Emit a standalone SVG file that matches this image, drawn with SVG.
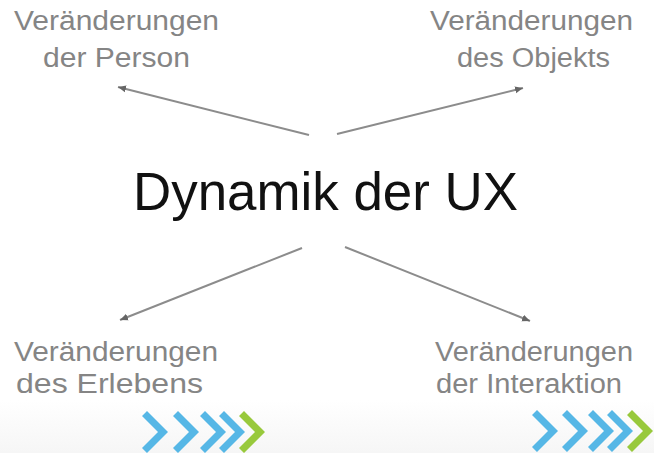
<svg xmlns="http://www.w3.org/2000/svg" width="654" height="453" viewBox="0 0 654 453">
  <defs>
    <style>
      .lbl { font-family: "Liberation Sans", Arial, sans-serif; font-size: 27px; fill: #858585; }
      .title { font-family: "Liberation Sans", Arial, sans-serif; font-size: 53px; fill: #111111; }
      .conn { stroke: #8c8c8c; stroke-width: 2; fill: none; marker-end: url(#ah); }
      .blue { fill: #56b7e6; }
      .green { fill: #98c93c; }
    </style>
    <marker id="ah" markerUnits="userSpaceOnUse" markerWidth="10" markerHeight="10" refX="8" refY="5" orient="auto">
      <path d="M0,1.5 L8,5 L0,8.5 Z" fill="#666666"/>
    </marker>
    <path id="chev" d="M0,5 L5,0 L26,21 L5,42 L0,37 L16,21 Z"/>
    <linearGradient id="bg" x1="0" y1="0" x2="0" y2="1">
      <stop offset="0" stop-color="#ffffff"/>
      <stop offset="1" stop-color="#f6f6f6"/>
    </linearGradient>
  </defs>
  <rect x="0" y="0" width="654" height="453" fill="#ffffff"/>
  <rect x="0" y="400" width="654" height="53" fill="url(#bg)"/>

  <g id="center">
    <text class="title" x="133" y="210" textLength="385" lengthAdjust="spacingAndGlyphs">Dynamik der UX</text>
  </g>

  <g id="person">
    <text class="lbl" x="14" y="30" textLength="205" lengthAdjust="spacingAndGlyphs">Veränderungen</text>
    <text class="lbl" x="43" y="67" textLength="147" lengthAdjust="spacingAndGlyphs">der Person</text>
  </g>

  <g id="objekt">
    <text class="lbl" x="430" y="30" textLength="203" lengthAdjust="spacingAndGlyphs">Veränderungen</text>
    <text class="lbl" x="457" y="67" textLength="153" lengthAdjust="spacingAndGlyphs">des Objekts</text>
  </g>

  <g id="erleben">
    <text class="lbl" x="14" y="361" textLength="204" lengthAdjust="spacingAndGlyphs">Veränderungen</text>
    <text class="lbl" x="16" y="393" textLength="187" lengthAdjust="spacingAndGlyphs">des Erlebens</text>
  </g>

  <g id="interaktion">
    <text class="lbl" x="435" y="361" textLength="198" lengthAdjust="spacingAndGlyphs">Veränderungen</text>
    <text class="lbl" x="436" y="393" textLength="186" lengthAdjust="spacingAndGlyphs">der Interaktion</text>
  </g>

  <g id="connectors">
    <line class="conn" x1="309" y1="135" x2="118" y2="87"/>
    <line class="conn" x1="337" y1="134" x2="523" y2="88"/>
    <line class="conn" x1="302" y1="248" x2="120" y2="320"/>
    <line class="conn" x1="345" y1="247" x2="530" y2="321"/>
  </g>

  <g id="chevrons-left">
    <use href="#chev" class="blue" x="142" y="411"/>
    <use href="#chev" class="blue" x="173" y="411"/>
    <use href="#chev" class="blue" x="200" y="411"/>
    <use href="#chev" class="blue" x="219" y="411"/>
    <use href="#chev" class="green" x="239" y="411"/>
  </g>

  <g id="chevrons-right">
    <use href="#chev" class="blue" x="532" y="410"/>
    <use href="#chev" class="blue" x="562" y="410"/>
    <use href="#chev" class="blue" x="588" y="410"/>
    <use href="#chev" class="blue" x="607" y="410"/>
    <use href="#chev" class="green" x="627" y="410"/>
  </g>
</svg>
